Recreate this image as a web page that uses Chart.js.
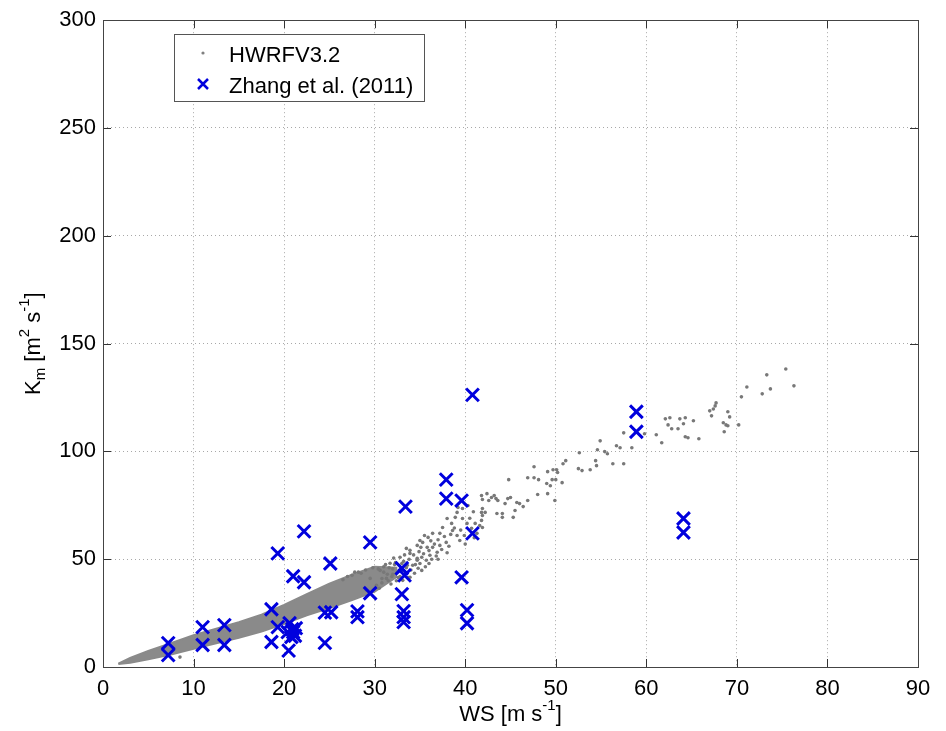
<!DOCTYPE html>
<html>
<head>
<meta charset="utf-8">
<script src="https://cdn.jsdelivr.net/npm/chart.js@4.4.1/dist/chart.umd.min.js"></script>
<style>
  html, body { margin: 0; padding: 0; background: #fff; }
  canvas { display: block; }
</style>
</head>
<body>
<canvas id="chart" width="946" height="731"></canvas>
<script>
// Dense part of the HWRF cloud: lower and upper edge of the band
const bandX    = [1.7, 3.0, 5.0, 7.5, 10.0, 12.5, 15.0, 17.5, 20.0, 22.5, 25.0, 27.5, 30.0, 32.5];
const bandLow  = [1.4, 2.0, 3.6, 5.8, 8.5, 11.0, 13.6, 16.5, 20.0, 24.0, 27.3, 31.0, 35.0, 42.0];
const bandHigh = [1.6, 4.2, 7.5, 11.0, 14.8, 17.8, 20.8, 24.3, 28.8, 33.8, 38.6, 42.8, 46.5, 46.0];

// Scattered HWRF V3.2 points
const hwrfX = [8.5, 26.5, 27.5, 28.2, 29.1, 29.5, 30.2, 30.6, 31.3, 31.7, 32.5, 32.8, 33.1, 33.5, 33.6, 33.9, 33.9, 33.9,
  34.2, 34.7, 34.7, 34.7, 34.8, 35.0, 35.2, 35.2, 35.3, 35.5, 35.7, 35.8, 35.9, 36.1, 36.4, 36.4, 36.9, 37.2, 37.2,
  37.5, 37.9, 38.0, 38.5, 38.6, 38.9, 39.1, 39.1, 39.2, 39.4, 39.7, 39.7, 40.2, 40.3, 40.7, 41.1, 41.3, 41.6, 41.8,
  41.8, 41.8, 42.2, 42.4, 42.6, 42.9, 43.2, 43.4, 43.6, 43.5, 36.0, 37.0, 38.0, 40.0, 41.0, 41.9, 41.9, 41.9, 41.9,
  44.1, 44.1, 44.4, 44.7, 44.8, 45.0, 45.3, 45.5, 45.7, 46.0, 46.4, 46.9, 46.9, 47.6, 47.6, 48.0, 48.1, 49.0, 49.1,
  49.1, 49.4, 49.6, 49.7, 49.9, 50.0, 50.1, 50.2, 50.7, 50.8, 51.1, 52.5, 52.6, 52.9, 53.8, 54.4, 54.5, 54.6, 54.9,
  55.4, 55.7, 56.3, 56.7, 57.1, 57.5, 57.5, 58.4, 59.8, 61.1, 61.7, 62.1, 62.4, 62.6, 62.8, 63.5, 63.7, 64.1, 64.3,
  64.3, 64.6, 65.2, 65.8, 67.0, 67.2, 67.4, 67.6, 67.7, 68.5, 68.6, 68.8, 69.0, 69.0, 69.2, 70.2, 70.5, 71.1, 72.8,
  73.3, 73.7, 75.4, 76.3,
  30.5, 30.8, 31.0, 31.4, 31.8, 32.0, 32.3, 32.6, 32.9, 33.2, 33.4, 33.8, 34.0, 34.3, 34.5, 34.9, 35.0, 35.4, 35.6,
  36.0, 36.3, 36.6, 36.8, 37.0, 37.4, 37.7, 38.2, 38.4, 38.8, 39.5, 39.9, 40.5, 40.9, 36.2, 35.1, 33.3, 32.1, 31.2,
  30.4, 31.9, 32.4, 33.0, 33.7, 34.4, 29.8, 29.0, 28.5, 27.8, 27.0,
  31.0, 31.6, 32.2, 32.7, 33.0, 30.8, 31.5, 32.0, 32.8, 33.5];
const hwrfY = [4.6, 40.5, 42.5, 44.0, 35.6, 41.1, 37.9, 44.8, 41.1, 48.1, 43.9, 50.9, 40.2, 55.0, 47.2, 54.1, 41.6, 52.7,
  47.2, 56.4, 49.5, 50.4, 45.8, 58.7, 44.8, 50.9, 57.8, 61.0, 49.5, 55.5, 60.1, 51.8, 62.0, 55.5, 53.2, 62.0, 56.4,
  64.7, 57.8, 68.9, 66.6, 63.3, 69.4, 71.7, 61.0, 74.0, 58.7, 73.5, 68.9, 66.6, 74.9, 64.3, 66.6, 62.0, 65.6, 79.5,
  71.7, 68.0, 71.7, 80.4, 77.2, 78.6, 79.5, 78.1, 77.2, 71.2, 48.0, 50.0, 53.0, 57.0, 60.0, 77.7, 70.3, 64.7, 73.5,
  71.2, 69.4, 75.8, 78.1, 86.9, 78.6, 69.4, 72.6, 76.3, 75.8, 74.4, 77.2, 87.8, 92.9, 87.8, 80.0, 86.9, 85.1, 80.4,
  90.6, 84.1, 86.9, 91.5, 77.2, 86.9, 91.5, 90.2, 85.5, 94.3, 95.7, 92.0, 99.4, 91.1, 91.5, 95.7, 93.4, 100.8, 104.9,
  99.9, 98.9, 94.3, 102.6, 101.7, 108.6, 94.3, 101.7, 108.2, 107.7, 104.0, 115.1, 112.3, 115.6, 110.5, 110.5, 115.1, 112.8, 115.6,
  106.8, 106.3, 114.2, 105.9, 118.8, 116.5, 119.7, 121.1, 122.5, 113.3, 109.1, 112.3, 118.4, 111.9, 116.0, 112.3, 125.3, 129.9, 126.7,
  135.5, 129.0, 138.2, 130.4,
  36.5, 39.0, 46.5, 43.0, 38.5, 45.5, 48.5, 41.5, 46.0, 49.0, 43.5, 50.0, 45.0, 52.0, 47.5, 53.5, 48.0, 52.5, 46.5,
  54.0, 50.0, 57.0, 51.5, 59.0, 54.5, 60.5, 56.0, 61.5, 64.5, 63.5, 61.0, 69.0, 72.0, 58.5, 55.5, 52.0, 50.5, 47.5,
  45.5, 42.0, 40.0, 44.5, 41.5, 43.5, 46.0, 45.0, 43.5, 44.0, 42.0,
  44.0, 46.0, 47.5, 44.5, 48.0, 41.0, 40.0, 43.0, 42.0, 46.0];

// Zhang et al. (2011) observations
const zhangX = [7.2, 7.2, 11.0, 11.0, 13.4, 13.4, 18.6, 18.6, 19.3, 19.3, 20.5, 20.6, 20.4, 21.0, 20.8, 21.2, 21.3,
  20.9, 21.0, 22.2, 22.2, 24.5, 25.2, 24.5, 25.1, 28.1, 28.1, 29.5, 29.5, 33.0, 33.3, 33.0, 33.2, 33.2, 33.2, 33.4,
  37.9, 37.9, 39.6, 39.6, 40.2, 40.2, 40.8, 40.8, 58.9, 58.9, 64.1, 64.1];
const zhangY = [11.1, 5.5, 18.5, 10.2, 19.4, 10.2, 26.8, 11.6, 52.7, 18.5, 7.6, 20.3, 16.2, 16.2, 13.9, 14.5, 18.0,
  17.5, 42.1, 39.3, 62.9, 25.2, 25.4, 11.2, 48.0, 25.8, 23.1, 57.8, 34.2, 45.8, 42.5, 33.8, 25.9, 23.1, 20.8, 74.4,
  86.9, 78.1, 77.2, 41.6, 26.4, 20.3, 126.2, 62.0, 118.4, 109.1, 68.9, 62.4];

const xTicks = [0, 10, 20, 30, 40, 50, 60, 70, 80, 90];
const yTicks = [0, 50, 100, 150, 200, 250, 300];
const seriesLabels = ["HWRFV3.2", "Zhang et al. (2011)"];

const FONT = "'Liberation Sans', Arial, Helvetica, sans-serif";
const GRAY = "#808080";
const BLUE = "#0000dd";

const toPoints = (xs, ys) => xs.map((x, i) => ({ x, y: ys[i] }));

// draws text made of pieces, some raised (sup) or lowered (sub)
function richText(ctx, cx, cy, parts, size) {
  const widths = parts.map(p => {
    ctx.font = `${p.s ? Math.round(size * 0.68) : size}px ${FONT}`;
    return ctx.measureText(p.t).width;
  });
  let x = cx - widths.reduce((a, b) => a + b, 0) / 2;
  ctx.textAlign = "left";
  ctx.textBaseline = "middle";
  ctx.fillStyle = "#000";
  parts.forEach((p, i) => {
    ctx.font = `${p.s ? Math.round(size * 0.68) : size}px ${FONT}`;
    const dy = p.s === 1 ? -size * 0.42 : p.s === -1 ? size * 0.3 : 0;
    ctx.fillText(p.t, x, cy + dy);
    x += widths[i];
  });
}

const matlabFrame = {
  id: "matlabFrame",
  afterDraw(chart) {
    const { ctx, chartArea: a, scales } = chart;
    ctx.save();
    // inner tick marks on all four sides
    ctx.strokeStyle = "#333";
    ctx.lineWidth = 1;
    ctx.beginPath();
    xTicks.forEach(v => {
      const px = Math.round(scales.x.getPixelForValue(v)) + 0.5;
      ctx.moveTo(px, a.bottom); ctx.lineTo(px, a.bottom - 8);
      ctx.moveTo(px, a.top); ctx.lineTo(px, a.top + 8);
    });
    yTicks.forEach(v => {
      const py = Math.round(scales.y.getPixelForValue(v)) + 0.5;
      ctx.moveTo(a.left, py); ctx.lineTo(a.left + 8, py);
      ctx.moveTo(a.right, py); ctx.lineTo(a.right - 8, py);
    });
    ctx.stroke();
    ctx.strokeStyle = "#444";
    ctx.strokeRect(Math.round(a.left) + 0.5, Math.round(a.top) + 0.5,
      Math.round(a.right - a.left), Math.round(a.bottom - a.top));

    // legend box
    ctx.fillStyle = "#fff";
    ctx.fillRect(174, 34, 250, 67);
    ctx.strokeStyle = "#555";
    ctx.strokeRect(174.5, 34.5, 250, 67);
    ctx.fillStyle = GRAY;
    ctx.beginPath();
    ctx.arc(203, 53, 1.6, 0, Math.PI * 2);
    ctx.fill();
    ctx.strokeStyle = BLUE;
    ctx.lineWidth = 2.5;
    ctx.beginPath();
    ctx.moveTo(198, 79); ctx.lineTo(208, 89);
    ctx.moveTo(208, 79); ctx.lineTo(198, 89);
    ctx.stroke();
    ctx.fillStyle = "#000";
    ctx.font = `22px ${FONT}`;
    ctx.textAlign = "left";
    ctx.textBaseline = "alphabetic";
    ctx.fillText(seriesLabels[0], 229, 62);
    ctx.fillText(seriesLabels[1], 229, 93);

    // axis titles
    richText(ctx, (a.left + a.right) / 2, 715,
      [{ t: "WS [m s" }, { t: "-1", s: 1 }, { t: "]" }], 22);
    ctx.translate(34, (a.top + a.bottom) / 2);
    ctx.rotate(-Math.PI / 2);
    richText(ctx, 0, 0,
      [{ t: "K" }, { t: "m", s: -1 }, { t: " [m" }, { t: "2", s: 1 }, { t: " s" }, { t: "-1", s: 1 }, { t: "]" }], 22);
    ctx.restore();
  }
};

const gridStyle = { color: "#a8a8a8", lineWidth: 1, drawTicks: false };
const tickFont = { family: FONT, size: 22 };

new Chart(document.getElementById("chart").getContext("2d"), {
  type: "scatter",
  data: {
    datasets: [
      {
        label: seriesLabels[1],
        data: toPoints(zhangX, zhangY),
        pointStyle: "crossRot",
        pointRadius: 9,
        borderColor: BLUE,
        backgroundColor: BLUE,
        borderWidth: 3
      },
      {
        label: seriesLabels[0],
        data: toPoints(hwrfX, hwrfY),
        pointRadius: 1.8,
        borderWidth: 0,
        backgroundColor: "#787878"
      },
      {
        type: "line",
        label: "band-high",
        data: toPoints(bandX, bandHigh),
        borderColor: "#8a8a8a",
        borderWidth: 2,
        backgroundColor: "#8a8a8a",
        pointRadius: 0,
        tension: 0,
        fill: "+1"
      },
      {
        type: "line",
        label: "band-low",
        data: toPoints(bandX, bandLow),
        borderColor: "#8a8a8a",
        borderWidth: 2,
        pointRadius: 0,
        tension: 0,
        fill: false
      }
    ]
  },
  options: {
    responsive: false,
    devicePixelRatio: 1,
    animation: false,
    events: [],
    layout: { padding: { top: 18, right: 28, left: 0, bottom: 0 } },
    plugins: { legend: { display: false }, tooltip: { enabled: false } },
    scales: {
      x: {
        type: "linear",
        min: 0, max: 90,
        afterFit: s => { s.height = 64; },
        afterBuildTicks: s => { s.ticks = xTicks.map(value => ({ value })); },
        grid: gridStyle,
        border: { display: false, dash: [1, 3] },
        ticks: { color: "#000", font: tickFont, padding: 9, maxRotation: 0 }
      },
      y: {
        type: "linear",
        min: 0, max: 300,
        afterFit: s => { s.width = 103; },
        afterBuildTicks: s => { s.ticks = yTicks.map(value => ({ value })); },
        grid: gridStyle,
        border: { display: false, dash: [1, 3] },
        ticks: { color: "#000", font: tickFont, padding: 7 }
      }
    }
  },
  plugins: [matlabFrame]
});
</script>
</body>
</html>
